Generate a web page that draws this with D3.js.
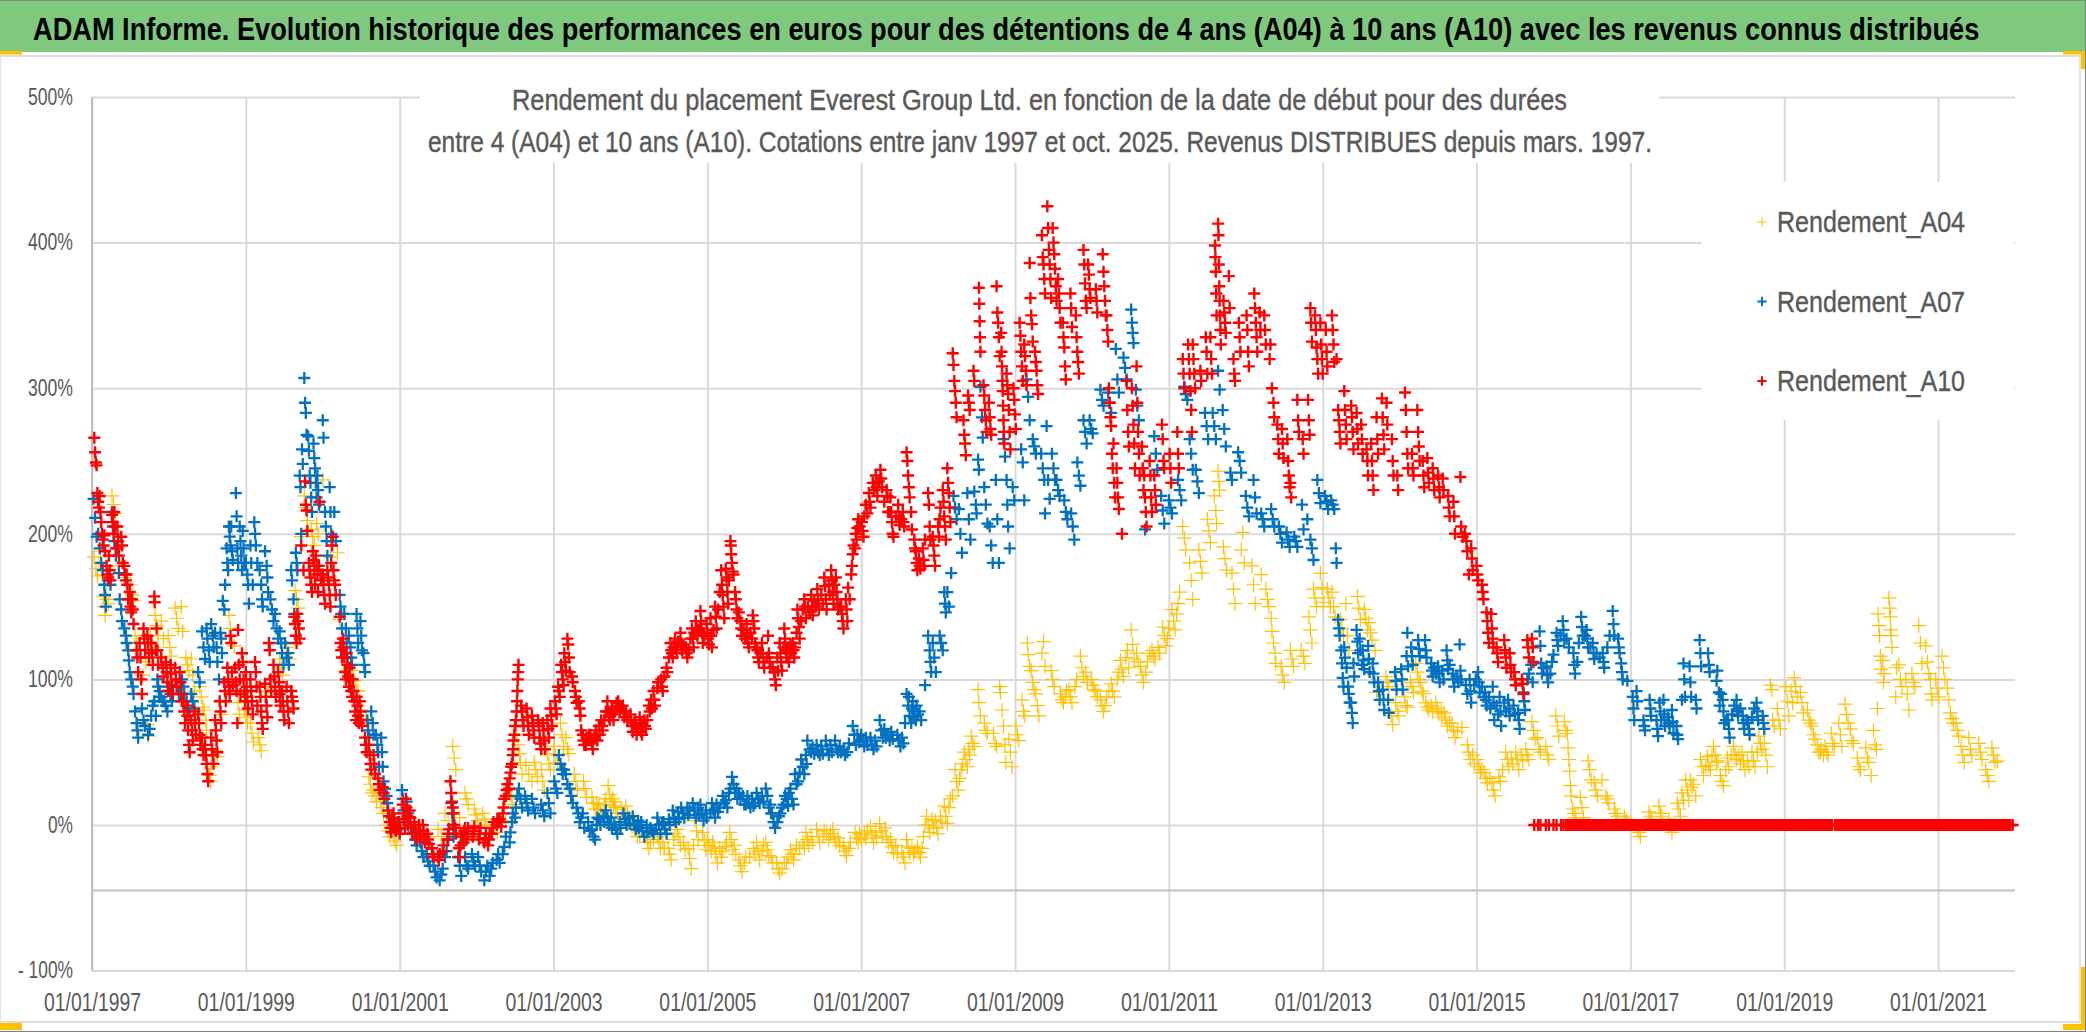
<!DOCTYPE html>
<html>
<head>
<meta charset="utf-8">
<title>ADAM Informe</title>
<script src="https://cdn.jsdelivr.net/npm/d3@7"></script>
<style>
body { margin: 0; background: #fff; }
text { font-family: "Liberation Sans", sans-serif; }
</style>
</head>
<body>
<div id="graph"></div>
<script>
const titre = "ADAM Informe. Evolution historique des performances en euros pour des détentions de 4 ans (A04) à 10 ans (A10) avec les revenus connus distribués";
const sousTitre1 = "Rendement du placement Everest Group Ltd. en fonction de la date de début pour des durées";
const sousTitre2 = "entre 4 (A04) et 10 ans (A10). Cotations entre janv 1997 et oct. 2025. Revenus DISTRIBUES depuis mars. 1997.";
const seriesNames = ["Rendement_A04", "Rendement_A07", "Rendement_A10"];
const xTickYears = [1997, 1999, 2001, 2003, 2005, 2007, 2009, 2011, 2013, 2015, 2017, 2019, 2021];
const yTicks = [-100, 0, 100, 200, 300, 400, 500];

// [annee decimale, rendement %]
const rendementA04 = [
[1997.03,184],[1997.05,176],[1997.07,171],[1997.09,180],[1997.11,188],[1997.13,172],[1997.15,157],[1997.16,150],[1997.17,144],[1997.19,155],[1997.21,152],[1997.26,226],[1997.28,220],[1997.3,214],[1997.33,190],[1997.35,178],[1997.42,170],[1997.5,165],[1997.52,158],[1997.54,154],[1997.56,130],[1997.58,125],[1997.66,103],[1997.7,112],[1997.72,69],[1997.73,61],[1997.76,130],[1997.79,122],[1997.82,144],[1997.84,137],[1997.86,130],[1997.9,140],[1997.93,128],[1997.99,130],[1998.01,122],[1998.03,116],[1998.08,149],[1998.1,142],[1998.12,135],[1998.16,150],[1998.18,133],[1998.22,115],[1998.24,110],[1998.26,106],[1998.29,114],[1998.31,103],[1998.33,92],[1998.4,95],[1998.42,88],[1998.44,81],[1998.46,79],[1998.48,72],[1998.49,65],[1998.53,34],[1998.54,30],[1998.55,40],[1998.61,51],[1998.63,47],[1998.68,76],[1998.78,144],[1998.8,135],[1998.85,123],[1998.9,84],[1998.92,76],[1998.98,79],[1999.0,74],[1999.02,70],[1999.06,70],[1999.08,63],[1999.1,57],[1999.16,60],[1999.18,55],[1999.2,51],[1999.29,92],[1999.37,95],[1999.44,114],[1999.46,108],[1999.48,103],[1999.53,122],[1999.55,118],[1999.57,114],[1999.64,161],[1999.66,155],[1999.68,149],[1999.72,198],[1999.76,226],[1999.78,218],[1999.8,209],[1999.85,203],[1999.87,198],[1999.89,192],[1999.92,207],[1999.94,200],[2000.0,237],[2000.1,184],[2000.19,187],[2000.22,141],[2000.3,106],[2000.4,106],[2000.42,99],[2000.44,92],[2000.46,92],[2000.48,85],[2000.5,79],[2000.56,73],[2000.6,33],[2000.62,28],[2000.64,22],[2000.66,24],[2000.68,20],[2000.7,16],[2000.75,16],[2000.77,12],[2000.79,8],[2000.83,0],[2000.85,-4],[2000.87,-8],[2000.92,-8],[2000.94,-11],[2000.96,-14],[2001.06,5],[2001.37,-8],[2001.5,-3],[2001.54,-8],[2001.59,8],[2001.63,3],[2001.69,54],[2001.71,46],[2001.73,38],[2001.78,5],[2001.85,22],[2001.87,18],[2001.89,14],[2001.97,11],[2001.99,7],[2002.01,3],[2002.08,8],[2002.1,4],[2002.12,0],[2002.23,0],[2002.27,-5],[2002.34,8],[2002.38,3],[2002.43,24],[2002.45,19],[2002.47,14],[2002.52,62],[2002.54,55],[2002.56,49],[2002.57,43],[2002.59,35],[2002.64,41],[2002.68,35],[2002.72,30],[2002.75,43],[2002.77,38],[2002.79,33],[2002.84,38],[2002.86,30],[2002.88,24],[2002.92,49],[2002.94,42],[2002.96,38],[2003.01,54],[2003.03,48],[2003.05,43],[2003.09,70],[2003.11,62],[2003.13,54],[2003.16,60],[2003.18,52],[2003.2,49],[2003.27,35],[2003.29,30],[2003.31,24],[2003.39,30],[2003.41,25],[2003.43,19],[2003.5,19],[2003.52,15],[2003.54,11],[2003.59,14],[2003.61,10],[2003.63,8],[2003.71,27],[2003.73,21],[2003.75,16],[2003.79,16],[2003.81,12],[2003.83,8],[2003.94,13],[2003.96,8],[2003.98,5],[2004.05,-3],[2004.09,-8],[2004.2,-8],[2004.22,-12],[2004.24,-16],[2004.35,-8],[2004.37,-12],[2004.39,-16],[2004.49,-16],[2004.51,-20],[2004.53,-24],[2004.61,-3],[2004.63,-8],[2004.65,-14],[2004.75,-16],[2004.77,-23],[2004.79,-30],[2004.84,3],[2004.86,-4],[2004.88,-10],
[2004.94,-5],[2004.96,-11],[2004.98,-17],[2005.09,-15],[2005.11,-20],[2005.13,-26],[2005.2,-18],[2005.25,-12],[2005.29,-5],[2005.31,-10],[2005.33,-17],[2005.41,-24],[2005.43,-28],[2005.45,-32],[2005.55,-22],[2005.64,-12],[2005.66,-18],[2005.68,-24],[2005.76,-12],[2005.78,-17],[2005.8,-21],[2005.9,-26],[2005.92,-30],[2005.94,-33],[2006.0,-26],[2006.08,-17],[2006.1,-20],[2006.12,-24],[2006.2,-16],[2006.28,-5],[2006.3,-10],[2006.32,-14],[2006.42,-3],[2006.44,-8],[2006.46,-12],[2006.55,-6],[2006.63,-3],[2006.65,-8],[2006.67,-12],[2006.77,-15],[2006.79,-18],[2006.81,-21],[2006.92,-5],[2006.94,-9],[2006.96,-12],[2007.04,-6],[2007.12,-1],[2007.14,-7],[2007.16,-12],[2007.24,1],[2007.26,-4],[2007.28,-8],[2007.38,-10],[2007.4,-15],[2007.42,-19],[2007.53,-19],[2007.55,-22],[2007.57,-26],[2007.59,-10],[2007.61,-15],[2007.63,-19],[2007.7,-18],[2007.73,-15],[2007.75,-19],[2007.77,-22],[2007.85,6],[2007.87,0],[2007.89,-5],[2007.96,3],[2007.98,-2],[2008.0,-6],[2008.08,13],[2008.1,6],[2008.12,1],[2008.19,20],[2008.22,38],[2008.24,30],[2008.26,24],[2008.34,50],[2008.36,45],[2008.38,40],[2008.43,61],[2008.45,56],[2008.47,54],[2008.52,93],[2008.53,84],[2008.55,75],[2008.6,70],[2008.62,65],[2008.64,63],[2008.72,63],[2008.74,56],[2008.76,54],[2008.8,95],[2008.81,91],[2008.83,79],[2008.85,68],[2008.87,55],[2008.88,43],[2008.92,59],[2008.94,50],[2008.96,40],[2009.01,68],[2009.03,62],[2009.05,58],[2009.09,86],[2009.11,78],[2009.13,75],[2009.16,125],[2009.17,117],[2009.19,109],[2009.21,106],[2009.23,98],[2009.25,93],[2009.27,90],[2009.29,82],[2009.31,75],[2009.35,118],[2009.37,126],[2009.39,109],[2009.47,106],[2009.49,100],[2009.51,95],[2009.59,90],[2009.61,86],[2009.63,84],[2009.7,93],[2009.72,88],[2009.74,84],[2009.85,116],[2009.87,108],[2009.89,102],[2009.99,100],[2010.01,96],[2010.03,93],[2010.11,86],[2010.13,82],[2010.15,78],[2010.25,97],[2010.27,92],[2010.29,88],[2010.37,113],[2010.39,107],[2010.41,102],[2010.51,134],[2010.53,124],[2010.55,114],[2010.63,109],[2010.65,103],[2010.67,98],[2010.78,120],[2010.8,116],[2010.82,114],[2010.92,136],[2010.94,130],[2010.96,123],[2011.04,148],[2011.06,140],[2011.08,134],[2011.18,205],[2011.2,197],[2011.22,189],[2011.27,180],[2011.29,168],[2011.31,155],[2011.39,189],[2011.41,181],[2011.43,173],[2011.5,210],[2011.52,202],[2011.54,194],[2011.59,226],[2011.61,216],[2011.62,207],[2011.64,243],[2011.65,236],[2011.66,230],[2011.71,191],[2011.73,183],[2011.75,175],[2011.82,173],[2011.84,162],[2011.86,152],[2011.94,189],[2011.96,201],[2011.98,180],[2012.08,178],[2012.1,165],[2012.12,152],[2012.2,172],[2012.26,162],[2012.28,155],[2012.3,150],[2012.33,142],[2012.34,133],[2012.36,125],[2012.38,118],[2012.39,111],[2012.46,109],[2012.48,103],[2012.5,98],[2012.58,120],[2012.6,114],[2012.62,109],[2012.72,120],[2012.75,116],[2012.77,111],[2012.82,143],[2012.84,134],[2012.86,125],[2012.88,162],[2012.9,156],[2012.92,150],[2012.97,173],[2012.99,163],[2013.01,153],[2013.06,162],[2013.08,156],[2013.1,150],[2013.12,160],[2013.14,150],[2013.16,143],[2013.23,141],[2013.25,135],[2013.27,130],[2013.3,152],[2013.32,130],[2013.34,120],[2013.45,157],[2013.47,149],[2013.49,141],[2013.54,148],[2013.56,142],[2013.58,134],[2013.6,139],[2013.62,132],[2013.64,127],[2013.68,120],[2013.7,91],[2013.82,102],[2013.84,98],[2013.86,95],[2013.89,75],[2013.91,69],[2013.95,84],[2013.97,78],[2013.99,75],[2014.06,88],[2014.08,82],[2014.1,81],[2014.14,98],[2014.16,95],[2014.18,91],[2014.21,111],[2014.23,105],[2014.25,100],[2014.27,98],[2014.29,92],[2014.31,90],[2014.34,84],[2014.36,81],[2014.38,79],[2014.47,84],[2014.49,80],[2014.51,77],[2014.58,77],[2014.6,72],[2014.62,68],[2014.68,70],[2014.7,65],[2014.72,60],[2014.81,67],[2014.88,55],[2014.9,50],[2014.92,45],[2015.01,45],[2015.03,40],[2015.05,36],[2015.1,36],[2015.12,32],[2015.14,29],[2015.2,29],[2015.22,24],[2015.24,20],[2015.29,33],[2015.31,30],[2015.38,50],[2015.4,45],[2015.42,40],[2015.51,50],[2015.53,45],[2015.55,38],[2015.64,52],[2015.66,48],[2015.68,45],[2015.72,71],[2015.74,65],[2015.76,59],[2015.79,60],[2015.81,52],[2015.83,50],[2015.9,54],[2015.92,48],[2015.94,45],[2016.03,75],[2016.05,68],[2016.07,61],[2016.14,71],[2016.16,65],[2016.18,63],[2016.19,53],[2016.2,45],[2016.21,37],[2016.22,27],[2016.23,20],[2016.25,11],[2016.27,8],[2016.29,5],[2016.35,19],[2016.37,12],[2016.39,5],[2016.45,44],[2016.47,38],[2016.49,31],[2016.53,29],[2016.55,24],[2016.57,20],[2016.63,31],[2016.68,20],[2016.7,18],[2016.72,15],[2016.79,11],[2016.81,8],[2016.83,6],[2016.92,6],[2016.94,4],[2016.96,2],[2017.09,-3],[2017.11,-5],[2017.13,-8],[2017.24,9],[2017.26,6],[2017.28,4],[2017.37,13],[2017.39,8],[2017.41,6],[2017.5,4],[2017.52,0],[2017.54,-5],[2017.61,15],[2017.63,11],[2017.65,6],[2017.67,22],[2017.69,17],[2017.72,31],[2017.74,24],[2017.76,17],[2017.78,31],[2017.8,26],[2017.82,28],[2017.85,20],[2017.91,45],[2017.93,40],[2017.95,34],[2018.0,47],[2018.02,41],[2018.04,38],[2018.08,54],[2018.1,48],[2018.12,43],[2018.17,34],[2018.19,30],[2018.21,27],[2018.26,46],[2018.28,40],[2018.34,54],[2018.36,48],[2018.38,45],[2018.45,50],[2018.47,44],[2018.49,38],[2018.58,50],[2018.6,44],[2018.62,40],[2018.67,61],[2018.69,56],[2018.71,52],[2018.74,56],[2018.76,48],[2018.78,40],[2018.82,96],[2018.84,93],[2018.85,72],[2018.87,68],[2018.91,80],[2018.93,72],[2018.95,66],[2019.02,95],[2019.04,85],[2019.06,75],[2019.13,101],[2019.15,95],[2019.17,88],[2019.21,91],[2019.23,84],[2019.25,77],[2019.3,79],[2019.32,72],[2019.34,70],[2019.36,68],[2019.38,62],[2019.4,59],[2019.43,55],[2019.45,50],[2019.47,50],[2019.53,54],[2019.55,50],[2019.57,48],[2019.61,63],[2019.63,56],[2019.65,54],[2019.71,70],[2019.73,62],[2019.75,54],[2019.79,83],[2019.81,76],[2019.83,70],[2019.86,66],[2019.88,58],[2019.9,56],[2019.95,46],[2019.97,40],[2019.99,38],[2020.06,53],[2020.08,46],[2020.1,43],[2020.13,34],[2020.16,65],[2020.18,55],[2020.2,52],[2020.21,80],[2020.22,145],[2020.23,137],[2020.24,130],[2020.25,116],[2020.26,107],[2020.28,113],[2020.29,98],[2020.3,104],[2020.36,156],[2020.37,149],[2020.38,143],[2020.385,134],[2020.39,130],[2020.4,122],[2020.45,88],[2020.46,108],[2020.49,110],[2020.51,100],[2020.53,95],[2020.58,100],[2020.6,90],[2020.62,79],[2020.66,104],[2020.68,98],[2020.7,95],[2020.75,137],[2020.77,125],[2020.79,111],[2020.84,123],[2020.86,112],[2020.88,104],[2020.9,100],[2020.91,90],[2020.92,86],[2020.97,100],[2020.99,94],[2021.01,88],[2021.05,116],[2021.07,108],[2021.09,100],[2021.12,94],[2021.14,86],[2021.16,77],[2021.18,73],[2021.2,70],[2021.23,70],[2021.25,65],[2021.27,61],[2021.3,54],[2021.32,48],[2021.34,43],[2021.4,60],[2021.42,52],[2021.44,48],[2021.53,56],[2021.55,50],[2021.57,45],[2021.62,38],[2021.64,34],[2021.66,30],[2021.7,53],[2021.72,48],[2021.74,43],[2021.77,44],
[2003.56,15],[2003.57,11],[2003.66,14],[2003.68,18],[2003.77,18],[2003.78,13],[2003.88,11],[2003.89,6],[2004.0,4],[2004.02,-1],[2004.12,-8],[2004.14,-4],[2004.26,-12],[2004.3,-10],[2004.42,-12],[2004.44,-16],[2004.56,-10],[2004.58,-6],[2004.69,-12],[2004.71,-17],[2004.82,-14],[2005.0,-10],[2005.02,-14],[2005.05,-18],[2005.07,-12],[2005.16,-16],[2005.18,-22],[2005.23,-15],[2005.35,-14],[2005.37,-20],[2005.48,-26],[2005.5,-22],[2005.6,-16],[2005.62,-20],[2005.71,-18],[2005.73,-14],[2005.83,-22],[2005.85,-26],[2005.97,-30],[2006.03,-26],[2006.05,-22],[2006.14,-20],[2006.16,-14],[2006.24,-12],[2006.26,-16],[2006.35,-8],[2006.37,-12],[2006.5,-8],[2006.52,-4],[2006.58,-10],[2006.6,-6],[2006.7,-9],[2006.72,-14],[2006.84,-16],[2006.86,-12],[2006.98,-6],[2007.0,-10],[2007.06,-9],[2007.08,-4],[2007.18,-5],[2007.2,-9],[2007.31,-2],[2007.33,-8],[2007.35,-12],[2007.45,-14],[2007.47,-20],[2007.66,-16],[2007.68,-20],[2007.79,-16],[2007.81,-8],[2007.83,0],[2007.92,4],[2007.94,-2],[2008.03,6],[2008.05,2],[2008.14,12],[2008.16,18],[2008.28,32],[2008.3,38],[2008.32,42],[2008.4,52],[2008.41,48],[2009.65,88],[2009.67,92],[2009.78,95],[2009.8,100],[2009.92,105],[2009.94,98],[2010.05,92],[2010.07,88],[2010.17,82],[2010.19,88],[2010.22,92],[2010.33,100],[2010.35,105],[2010.44,115],[2010.46,120],[2010.48,108],[2010.58,118],[2010.6,112],[2010.7,105],[2010.72,112],[2010.75,118],[2010.86,122],[2010.88,118],[2010.98,128],[2011.0,135],[2011.1,145],[2011.12,152],[2011.14,160],[2014.41,82],[2014.43,78],[2014.54,78],[2014.55,74],[2014.65,70],[2014.75,64],[2014.95,48],[2014.97,42],[2015.07,38],[2015.17,32],[2015.34,38],[2015.45,46],[2015.47,42],[2015.58,48],[2015.6,44],[2017.98,40],[2018.06,48],[2018.14,44],[2018.24,38],[2018.31,48],[2018.41,48],[2018.43,42],[2018.52,44],[2018.54,40],[2018.65,50],[2019.09,92],[2019.11,84],[2019.48,52],[2019.51,48]
];

const rendementA07 = [
[1997.02,224],[1997.04,211],[1997.06,198],[1997.08,200],[1997.1,190],[1997.12,180],[1997.14,175],[1997.16,165],[1997.17,158],[1997.18,150],[1997.21,168],[1997.24,165],[1997.26,215],[1997.27,205],[1997.29,195],[1997.31,185],[1997.33,190],[1997.35,173],[1997.36,155],[1997.38,148],[1997.39,140],[1997.42,135],[1997.44,130],[1997.45,125],[1997.47,120],[1997.48,113],[1997.49,105],[1997.51,100],[1997.53,95],[1997.54,90],[1997.56,78],[1997.58,70],[1997.59,65],[1997.6,60],[1997.65,80],[1997.67,72],[1997.69,68],[1997.73,62],[1997.75,66],[1997.77,75],[1997.79,82],[1997.81,85],[1997.83,75],[1997.85,100],[1997.86,95],[1997.87,88],[1997.88,92],[1997.9,88],[1997.92,85],[1997.94,85],[1997.96,82],[1997.98,78],[1998.0,95],[1998.02,90],[1998.04,85],[1998.09,100],[1998.11,95],[1998.13,90],[1998.17,100],[1998.19,95],[1998.2,90],[1998.23,85],[1998.25,80],[1998.27,75],[1998.29,90],[1998.31,85],[1998.33,80],[1998.38,105],[1998.4,98],[1998.43,133],[1998.45,122],[1998.47,114],[1998.49,135],[1998.5,128],[1998.52,120],[1998.53,112],[1998.55,138],[1998.57,130],[1998.58,122],[1998.6,132],[1998.62,122],[1998.63,112],[1998.65,100],[1998.67,132],[1998.68,128],[1998.69,118],[1998.7,154],[1998.72,148],[1998.73,165],[1998.75,190],[1998.76,180],[1998.77,175],[1998.78,205],[1998.79,198],[1998.8,192],[1998.81,205],[1998.82,188],[1998.83,182],[1998.87,228],[1998.88,212],[1998.89,190],[1998.9,180],[1998.92,205],[1998.93,195],[1998.94,185],[1998.95,175],[1998.96,202],[1998.97,190],[1998.98,180],[1999.0,180],[1999.02,172],[1999.03,165],[1999.04,152],[1999.06,192],[1999.07,180],[1999.09,165],[1999.11,208],[1999.12,200],[1999.13,192],[1999.15,180],[1999.18,175],[1999.2,165],[1999.21,155],[1999.22,150],[1999.25,188],[1999.27,178],[1999.28,170],[1999.29,160],[1999.32,155],[1999.34,148],[1999.36,140],[1999.38,145],[1999.4,135],[1999.42,128],[1999.44,133],[1999.46,125],[1999.47,118],[1999.49,110],[1999.51,125],[1999.53,115],[1999.55,118],[1999.56,110],[1999.59,175],[1999.6,168],[1999.62,155],[1999.63,145],[1999.65,187],[1999.66,180],[1999.67,175],[1999.7,240],[1999.71,232],[1999.72,200],[1999.73,258],[1999.74,248],[1999.76,307],[1999.77,290],[1999.78,283],[1999.79,268],[1999.81,267],[1999.82,257],[1999.83,240],[1999.84,235],[1999.85,225],[1999.86,215],[1999.88,262],[1999.89,252],[1999.9,245],[1999.91,235],[1999.92,225],[1999.93,240],[1999.94,230],[1999.95,220],[2000.0,278],[2000.01,266],[2000.03,215],[2000.04,205],[2000.05,195],[2000.06,185],[2000.09,232],[2000.1,215],[2000.11,200],[2000.12,195],[2000.15,215],[2000.17,195],[2000.22,158],[2000.23,150],[2000.24,145],[2000.25,135],[2000.28,145],[2000.3,135],[2000.31,125],[2000.32,115],[2000.34,130],[2000.36,122],[2000.37,115],[2000.38,110],[2000.44,145],[2000.45,135],[2000.46,125],[2000.49,140],[2000.5,130],[2000.51,120],[2000.53,118],[2000.54,110],[2000.55,105],[2000.58,72],[2000.59,65],[2000.6,60],[2000.63,78],[2000.65,70],[2000.66,62],[2000.69,62],[2000.71,55],[2000.72,50],[2000.73,40],[2000.76,60],[2000.77,50],[2000.78,40],[2000.79,30],[2000.81,25],[2000.83,20],[2000.84,15],[2000.9,5],[2000.92,0],[2000.94,-3],[2000.99,2],[2001.01,-3],[2001.03,24],[2001.04,18],[2001.05,10],[2001.09,16],[2001.11,8],[2001.13,2],[2001.18,-5],[2001.2,-10],[2001.22,-14],[2001.27,-12],[2001.29,-18],[2001.31,-22],[2001.35,-20],[2001.37,-25],[2001.39,-28],[2001.44,-28],[2001.46,-32],[2001.48,-36],[2001.52,-38],[2001.54,-34],[2001.56,-30],[2001.59,-22],[2001.61,-18],[2001.63,-10],[2001.67,15],[2001.68,8],[2001.69,0],[2001.7,-8],[2001.76,-22],[2001.78,-28],[2001.8,-35],[2001.85,-22],[2001.87,-28],[2001.89,-30],[2001.94,-20],[2001.96,-25],[2001.98,-28],[2002.02,-22],[2002.04,-28],[2002.06,-32],[2002.1,-38],[2002.12,-32],[2002.14,-28],[2002.17,-35],[2002.19,-30],[2002.21,-26],[2002.26,-24],[2002.28,-20],[2002.3,-26],[2002.34,-20],[2002.36,-15],[2002.38,-8],[2002.43,-12],[2002.44,-5],[2002.46,2],[2002.47,8],[2002.5,5],[2002.51,12],[2002.53,20],[2002.55,25],[2002.57,18],[2002.59,12],[2002.63,20],[2002.65,15],[2002.67,10],[2002.72,18],[2002.74,12],[2002.76,8],[2002.84,14],[2002.86,10],[2002.88,6],[2002.92,22],[2002.94,15],[2002.96,8],[2003.01,30],[2003.03,25],[2003.05,22],[2003.07,48],[2003.09,42],[2003.11,38],[2003.12,35],[2003.14,38],[2003.16,35],[2003.18,28],[2003.21,25],[2003.23,20],[2003.25,15],[2003.3,12],[2003.32,8],[2003.34,2],[2003.36,5],[2003.38,8],[2003.4,-2],[2003.5,-3],[2003.52,-8],[2003.54,-10],[2003.59,4],[2003.61,0],[2003.68,10],[2003.7,5],[2003.72,0],[2003.79,0],[2003.81,-3],[2003.83,-6],[2003.91,8],[2003.93,4],[2003.95,0],[2004.03,6],[2004.05,0],[2004.07,-3],[2004.14,2],[2004.16,-4],[2004.18,-8],[2004.26,-2],[2004.28,-4],[2004.3,-6],[2004.35,5],[2004.37,0],[2004.39,-6],[2004.43,2],[2004.45,-3],[2004.47,-6],[2004.55,10],[2004.57,5],[2004.59,2],[2004.66,12],[2004.68,8],[2004.7,5],[2004.81,15],[2004.83,10],[2004.85,5],[2004.91,14],[2004.93,8],[2004.95,3],[2005.04,8],[2005.06,15],[2005.08,10],[2005.1,5],[2005.16,12],[2005.2,20],[2005.22,15],[2005.28,22],[2005.32,33],[2005.34,28],[2005.36,22],[2005.41,22],[2005.43,18],[2005.5,14],[2005.52,20],[2005.54,15],[2005.56,12],[2005.62,15],[2005.64,22],[2005.66,18],[2005.68,15],[2005.76,25],[2005.78,20],[2005.8,12],[2005.84,8],[2005.86,2],[2005.88,-2],[2005.91,2],[2005.93,6],[2005.99,14],[2006.01,20],[2006.08,25],[2006.1,18],[2006.12,14],[2006.14,35],[2006.16,28],[2006.22,45],[2006.24,40],[2006.26,35],[2006.3,58],[2006.33,52],[2006.35,50],[2006.42,55],[2006.44,50],[2006.46,48],[2006.54,58],[2006.56,52],[2006.58,48],[2006.66,58],[2006.68,52],[2006.7,50],[2006.77,52],[2006.79,48],[2006.89,68],[2006.91,62],[2006.93,55],[2007.0,62],[2007.02,58],[2007.04,54],[2007.12,60],[2007.14,55],[2007.16,52],[2007.24,72],[2007.26,65],[2007.28,60],[2007.35,62],[2007.37,58],[2007.47,62],[2007.49,58],[2007.51,54],[2007.59,90],[2007.61,82],[2007.63,75],[2007.65,70],[2007.67,85],[2007.69,78],[2007.71,72],[2007.76,78],[2007.78,72],[2007.83,96],[2007.87,130],[2007.89,120],[2007.9,112],[2007.91,105],[2007.93,125],[2007.95,115],[2007.97,105],[2008.02,130],[2008.04,125],[2008.06,120],[2008.08,160],[2008.09,152],[2008.1,146],[2008.12,160],[2008.14,150],[2008.17,173],[2008.2,226],[2008.22,218],[2008.24,210],[2008.27,217],[2008.29,200],[2008.31,187],[2008.38,228],[2008.4,210],[2008.42,196],[2008.47,229],[2008.49,220],[2008.5,214],[2008.52,251],[2008.53,244],[2008.55,301],[2008.57,280],[2008.58,266],[2008.6,232],[2008.62,220],[2008.64,207],[2008.67,205],[2008.69,192],[2008.71,180],[2008.75,237],[2008.77,210],[2008.79,180],[2008.85,265],[2008.87,253],[2008.89,237],[2008.9,220],[2008.91,205],[2008.93,190],[2008.97,232],[2008.99,223],[2009.08,258],[2009.1,249],[2009.12,223],[2009.15,306],[2009.17,294],[2009.19,278],[2009.23,265],[2009.25,260],[2009.27,255],[2009.34,255],[2009.36,245],[2009.38,237],[2009.39,214],[2009.41,274],[2009.43,237],[2009.45,224],[2009.48,255],[2009.5,245],[2009.52,237],[2009.54,237],[2009.56,230],[2009.58,226],[2009.64,223],[2009.66,215],[2009.68,210],[2009.73,214],[2009.75,205],[2009.77,196],[2009.81,249],[2009.83,240],[2009.85,233],[2009.89,278],[2009.91,270],[2009.93,262],[2009.97,278],[2009.99,272],[2010.01,269],[2010.11,299],[2010.13,292],[2010.15,288],[2010.21,297],[2010.23,290],[2010.25,283],[2010.31,327],[2010.33,306],[2010.35,297],[2010.41,321],[2010.43,314],[2010.45,306],[2010.51,354],[2010.52,345],[2010.53,338],[2010.54,331],[2010.57,299],[2010.59,288],[2010.61,278],[2010.69,203],[2010.81,267],[2010.83,255],[2010.85,244],[2010.9,226],[2010.92,216],[2010.94,207],[2011.0,223],[2011.02,218],[2011.04,214],[2011.12,237],[2011.14,230],[2011.16,223],[2011.2,301],[2011.22,296],[2011.24,292],[2011.27,265],[2011.29,255],[2011.31,244],[2011.35,244],[2011.37,236],[2011.39,228],[2011.47,283],[2011.49,274],[2011.51,265],[2011.57,283],[2011.59,274],[2011.61,265],[2011.64,312],[2011.66,299],[2011.7,285],[2011.72,272],[2011.74,260],[2011.8,242],[2011.82,237],[2011.9,256],[2011.92,250],[2011.94,242],[2012.0,226],[2012.02,218],[2012.04,212],[2012.1,237],[2012.12,225],[2012.14,214],[2012.2,214],[2012.22,210],[2012.24,205],[2012.33,217],[2012.35,210],[2012.37,205],[2012.43,205],[2012.45,200],[2012.47,194],[2012.53,201],[2012.55,196],[2012.57,191],[2012.63,198],[2012.65,195],[2012.67,191],[2012.73,220],[2012.75,203],[2012.8,210],[2012.84,196],[2012.86,190],[2012.88,182],[2012.93,237],[2012.95,228],[2012.97,221],[2013.03,226],[2013.05,222],[2013.07,217],[2013.11,223],[2013.13,220],[2013.15,217],[2013.17,190],[2013.18,180],
[2013.2,141],[2013.21,135],[2013.22,130],[2013.24,120],[2013.25,111],[2013.26,101],[2013.27,95],[2013.28,122],[2013.29,115],[2013.31,108],[2013.33,95],[2013.34,90],[2013.35,84],[2013.37,84],[2013.38,77],[2013.39,70],[2013.4,111],[2013.41,102],[2013.44,134],[2013.45,126],[2013.46,118],[2013.48,128],[2013.49,120],[2013.51,110],[2013.52,120],[2013.53,113],[2013.54,107],[2013.59,123],[2013.6,114],[2013.61,105],[2013.65,111],[2013.66,104],[2013.67,98],[2013.72,98],[2013.73,92],[2013.74,86],[2013.78,93],[2013.79,86],[2013.8,79],[2013.85,86],[2013.86,77],[2013.94,105],[2013.95,99],[2013.96,93],[2014.02,107],[2014.03,100],[2014.04,93],[2014.09,116],[2014.1,132],[2014.11,109],[2014.15,122],[2014.16,116],[2014.17,110],[2014.24,127],[2014.25,121],[2014.26,116],[2014.33,127],[2014.34,120],[2014.35,115],[2014.41,111],[2014.42,106],[2014.43,102],[2014.5,109],[2014.51,104],[2014.52,98],[2014.61,120],[2014.62,113],[2014.63,107],[2014.69,104],[2014.7,100],[2014.71,95],[2014.78,124],[2014.79,106],[2014.8,100],[2014.91,100],[2014.92,92],[2014.93,84],[2015.02,105],[2015.03,98],[2015.04,91],[2015.11,91],[2015.12,86],[2015.13,82],[2015.21,95],[2015.22,84],[2015.23,72],[2015.3,88],[2015.31,78],[2015.32,68],[2015.41,86],[2015.42,80],[2015.43,75],[2015.54,77],[2015.55,72],[2015.56,66],[2015.61,91],[2015.62,85],[2015.63,79],[2015.71,110],[2015.73,98],[2015.82,133],[2015.83,123],[2015.84,111],[2015.85,104],[2015.91,109],[2015.92,103],[2015.93,98],[2016.04,132],[2016.05,127],[2016.06,123],[2016.0,117],[2016.12,140],[2016.13,134],[2016.14,127],[2016.26,118],[2016.27,110],[2016.28,104],[2016.36,143],[2016.37,136],[2016.38,130],[2016.43,134],[2016.44,128],[2016.45,122],[2016.51,125],[2016.52,118],[2016.53,114],[2016.64,118],[2016.65,112],[2016.66,108],[2016.77,147],[2016.78,138],[2016.79,130],[2016.84,128],[2016.85,122],[2016.86,118],[2016.88,111],[2016.89,105],[2016.9,100],[2016.96,99],
[2017.03,88],[2017.04,80],[2017.05,72],[2017.08,92],[2017.09,85],[2017.17,72],[2017.18,68],[2017.19,65],[2017.25,86],[2017.26,80],[2017.27,75],[2017.34,72],[2017.35,66],[2017.36,61],[2017.38,84],[2017.39,78],[2017.4,72],[2017.43,86],[2017.44,76],[2017.45,68],[2017.49,74],[2017.5,70],[2017.51,68],[2017.54,79],[2017.55,71],[2017.56,63],[2017.6,68],[2017.61,62],[2017.62,59],[2017.67,86],[2017.69,111],[2017.7,100],[2017.71,88],[2017.77,109],[2017.78,98],[2017.79,88],[2017.85,86],[2017.86,80],[2017.9,127],[2017.91,118],[2017.92,109],[2018.01,118],[2018.02,110],[2018.03,105],[2018.12,99],[2018.13,106],[2018.15,91],[2018.16,82],[2018.2,86],[2018.21,78],[2018.22,70],[2018.27,72],[2018.28,66],[2018.29,60],[2018.38,86],[2018.39,78],[2018.4,75],[2018.46,75],[2018.47,70],[2018.48,66],[2018.53,70],[2018.54,66],[2018.55,62],[2018.64,84],[2018.65,78],[2018.66,72],[2018.72,75],[2018.73,70],[2018.74,66],
[2003.45,2],[2003.47,-4],[2003.56,0],[2003.57,5],[2003.65,6],[2003.66,2],[2003.75,5],[2003.76,-2],[2003.86,2],[2003.87,-2],[2003.98,5],[2003.99,1],[2004.1,3],[2004.11,-2],[2004.21,0],[2004.22,-5],[2004.33,-3],[2004.41,1],[2004.5,4],[2004.51,0],[2004.62,9],[2004.63,4],[2004.74,12],[2004.75,7],[2004.77,10],[2004.88,12],[2004.89,7],[2004.98,10],[2004.99,5],[2005.12,14],[2005.14,9],[2005.24,17],[2005.26,12],[2005.3,25],[2005.38,25],[2005.39,18],[2005.46,20],[2005.48,14],[2005.58,18],[2005.6,13],[2005.71,20],[2005.73,16],[2005.82,14],[2005.83,8],[2005.95,8],[2005.97,12],[2006.03,18],[2006.05,13],[2006.06,22],[2006.18,30],[2006.2,36],[2006.28,48],[2006.29,42],[2006.37,53],[2006.39,49],[2006.48,54],[2006.5,49],[2006.6,55],[2006.62,50],[2006.72,54],[2006.74,50],[2006.82,50],[2006.84,56],[2006.95,62],[2006.97,57],[2007.06,60],[2007.08,55],[2007.18,58],[2007.2,54],[2007.3,66],[2007.32,60],[2007.39,64],[2007.41,59],[2007.53,60],[2007.55,56],[2007.57,70],[2007.62,88],[2007.66,80],[2007.68,74],[2007.72,82],[2007.74,76],[2014.45,108],[2014.47,104],[2014.55,106],[2014.57,100],[2014.65,110],[2014.74,102],[2014.76,98],[2014.86,96],[2014.88,90],[2014.97,96],[2014.99,100],[2015.07,95],[2015.09,88],[2015.16,88],[2015.18,80],[2015.26,82],[2015.28,76],[2015.36,84],[2015.38,78],[2015.48,82],[2015.5,76],[2015.66,100],[2015.68,104],[2015.87,108],[2015.96,104],[2015.98,112],[2016.09,130],[2016.17,128],[2016.2,122],[2016.31,112],[2016.33,125],[2016.41,130],[2016.48,122],[2016.56,118],[2016.6,115],[2016.7,122],[2016.73,130],[2018.18,90],[2018.24,72],[2018.32,76],[2018.35,82],[2018.43,80],[2018.51,72],[2018.58,74],[2018.61,80]
];

const rendementA10 = [
[1997.03,266],[1997.04,256],[1997.05,249],[1997.06,247],[1997.07,228],[1997.08,222],[1997.09,218],[1997.1,226],[1997.11,215],[1997.12,208],[1997.13,200],[1997.14,196],[1997.15,192],[1997.16,199],[1997.17,188],[1997.19,178],[1997.2,172],[1997.21,170],[1997.22,185],[1997.23,175],[1997.24,168],[1997.26,213],[1997.27,208],[1997.28,200],[1997.29,215],[1997.3,205],[1997.31,190],[1997.33,205],[1997.34,195],[1997.35,185],[1997.38,198],[1997.39,192],[1997.4,180],[1997.42,178],[1997.43,172],[1997.44,168],[1997.45,172],[1997.46,165],[1997.47,155],[1997.49,160],[1997.5,150],[1997.51,146],[1997.52,155],[1997.53,148],[1997.54,138],[1997.58,120],[1997.59,115],[1997.6,105],[1997.62,125],[1997.63,115],[1997.64,100],[1997.65,90],[1997.67,135],[1997.68,128],[1997.69,120],[1997.72,130],[1997.73,125],[1997.74,115],[1997.77,125],[1997.78,118],[1997.79,110],[1997.81,157],[1997.815,153],[1997.83,120],[1997.84,135],[1997.85,120],[1997.86,110],[1997.9,115],[1997.92,108],[1997.93,102],[1997.96,112],[1997.97,105],[1997.98,98],[1997.99,92],[1998.02,110],[1998.03,104],[1998.04,96],[1998.05,90],[1998.08,108],[1998.09,100],[1998.1,95],[1998.14,105],[1998.15,98],[1998.16,90],[1998.17,85],[1998.19,85],[1998.2,78],[1998.21,70],[1998.23,82],[1998.24,75],[1998.25,65],[1998.26,55],[1998.27,50],[1998.29,72],[1998.3,65],[1998.31,58],[1998.33,78],[1998.34,70],[1998.35,62],[1998.38,76],[1998.39,70],[1998.4,62],[1998.41,55],[1998.43,60],[1998.44,52],[1998.45,48],[1998.47,55],[1998.48,48],[1998.49,42],[1998.5,35],[1998.51,30],[1998.55,60],[1998.56,52],[1998.57,48],[1998.58,42],[1998.6,72],[1998.61,65],[1998.62,58],[1998.63,50],[1998.66,85],[1998.67,78],[1998.68,70],[1998.72,98],[1998.73,92],[1998.74,85],[1998.76,108],[1998.77,100],[1998.78,95],[1998.79,90],[1998.8,130],[1998.81,125],[1998.82,105],[1998.83,96],[1998.86,108],[1998.87,98],[1998.88,92],[1998.89,70],[1998.9,134],[1998.91,110],[1998.92,100],[1998.93,90],[1998.95,118],[1998.96,112],[1998.97,100],[1998.98,92],[1998.99,85],[1999.0,105],[1999.01,95],[1999.02,88],[1999.03,80],[1999.06,100],[1999.07,92],[1999.08,85],[1999.09,76],[1999.12,112],[1999.13,105],[1999.14,95],[1999.15,82],[1999.18,95],[1999.19,88],[1999.2,78],[1999.21,70],[1999.22,66],[1999.25,97],[1999.26,88],[1999.27,82],[1999.28,74],[1999.3,125],[1999.31,120],[1999.32,100],[1999.33,92],[1999.36,110],[1999.37,102],[1999.38,95],[1999.39,88],[1999.42,105],[1999.43,98],[1999.44,90],[1999.45,82],[1999.47,92],[1999.48,85],[1999.49,78],[1999.5,72],[1999.53,95],[1999.54,85],[1999.55,78],[1999.56,70],[1999.59,92],[1999.6,88],[1999.61,85],[1999.62,80],[1999.63,143],[1999.64,138],[1999.65,130],[1999.66,125],[1999.67,145],[1999.68,140],[1999.69,135],[1999.7,128],[1999.72,192],[1999.75,175],[1999.77,236],[1999.78,220],[1999.79,216],[1999.8,202],[1999.82,180],[1999.83,175],[1999.84,170],[1999.85,165],[1999.86,160],[1999.87,188],[1999.88,182],[1999.89,175],[1999.9,165],[1999.91,185],[1999.92,178],[1999.93,172],[1999.94,160],[1999.95,178],[1999.96,222],[1999.97,172],[1999.98,168],[2000.0,172],[2000.01,165],[2000.02,158],[2000.03,152],[2000.06,175],[2000.07,170],[2000.08,165],[2000.09,158],[2000.1,150],[2000.11,180],[2000.12,192],[2000.13,198],[2000.14,175],[2000.15,168],[2000.16,165],[2000.17,158],[2000.22,143],[2000.23,125],[2000.24,120],[2000.25,115],[2000.26,128],[2000.27,122],[2000.28,115],[2000.29,105],[2000.3,100],[2000.31,118],[2000.32,110],[2000.33,102],[2000.34,95],[2000.35,108],[2000.36,100],[2000.37,92],[2000.38,88],[2000.39,100],[2000.4,92],[2000.41,85],[2000.42,78],[2000.43,72],[2000.44,88],[2000.45,82],[2000.46,75],[2000.47,70],[2000.48,85],[2000.49,78],[2000.5,72],[2000.51,68],[2000.55,60],[2000.56,55],[2000.57,50],[2000.6,55],[2000.61,48],[2000.62,42],[2000.63,38],[2000.66,48],[2000.67,42],[2000.68,35],[2000.72,32],[2000.73,28],[2000.74,24],[2000.78,26],[2000.79,22],[2000.8,18],[2000.85,10],[2000.86,6],[2000.87,2],[2000.88,-2],[2000.89,-5],[2000.92,8],[2000.93,4],[2000.94,0],[2000.95,-4],[2000.98,2],[2000.99,-2],[2001.0,-6],[2001.04,14],[2001.05,8],[2001.06,4],[2001.07,-2],[2001.08,18],[2001.09,12],[2001.1,6],[2001.11,0],[2001.13,10],[2001.14,5],[2001.15,-2],[2001.16,-6],[2001.19,2],[2001.2,-2],[2001.21,-6],[2001.22,-10],[2001.25,0],[2001.26,-4],[2001.27,-8],[2001.3,0],[2001.31,-4],[2001.32,-8],[2001.33,-12],[2001.36,-6],[2001.37,-10],[2001.38,-13],[2001.42,-16],[2001.43,-20],[2001.44,-22],[2001.5,-22],[2001.51,-24],[2001.52,-20],[2001.56,-18],[2001.57,-14],[2001.62,-10],[2001.63,-6],[2001.64,-3],[2001.66,30],[2001.67,22],[2001.68,16],[2001.69,12],[2001.7,8],[2001.71,0],[2001.72,-2],[2001.73,-6],[2001.77,-16],[2001.78,-22],[2001.79,-14],[2001.8,-6],[2001.82,-8],[2001.83,-12],[2001.84,-4],[2001.85,-2],[2001.87,-10],[2001.88,-6],[2001.89,-2],[2001.95,-8],[2001.96,-4],[2001.97,-1],[2002.03,-10],[2002.04,-6],[2002.05,-2],[2002.1,-12],[2002.11,-9],[2002.12,-6],[2002.15,-14],[2002.16,-10],[2002.17,-6],[2002.2,-6],[2002.21,-2],[2002.22,2],[2002.26,0],[2002.27,4],[2002.28,3],[2002.3,4],[2002.31,2],[2002.32,-1],[2002.34,8],[2002.35,12],[2002.36,18],[2002.38,20],[2002.39,24],[2002.4,28],[2002.42,25],[2002.43,32],[2002.44,36],[2002.45,40],[2002.46,42],[2002.47,48],[2002.475,52],[2002.48,58],[2002.49,62],[2002.5,68],[2002.51,72],[2002.52,78],[2002.525,85],[2002.53,92],[2002.535,100],[2002.54,105],[2002.545,110],[2002.58,82],[2002.59,78],[2002.6,72],[2002.61,68],[2002.65,80],[2002.66,74],[2002.67,68],[2002.68,62],[2002.72,75],[2002.73,70],[2002.74,65],[2002.75,60],[2002.8,72],[2002.81,68],[2002.82,60],[2002.83,56],[2002.84,52],[2002.86,70],[2002.87,65],[2002.88,58],[2002.89,52],[2002.92,72],[2002.93,66],[2002.94,60],[2002.96,80],[2002.97,75],[2002.98,68],[2003.02,85],[2003.03,80],[2003.04,76],[2003.06,95],[2003.07,92],[2003.08,88],[2003.1,110],[2003.11,105],[2003.12,100],[2003.13,96],[2003.14,118],[2003.15,112],[2003.16,106],[2003.18,128],[2003.19,124],[2003.2,115],[2003.21,105],[2003.24,102],[2003.25,98],[2003.28,92],[2003.29,88],[2003.3,84],[2003.33,85],[2003.34,80],[2003.35,75],[2003.36,65],[2003.38,62],[2003.39,58],[2003.4,55],[2003.42,55],[2003.43,60],[2003.48,62],[2003.49,58],[2003.5,56],[2003.51,52],[2003.55,65],[2003.56,62],[2003.57,58],[2003.62,72],[2003.63,68],[2003.64,65],[2003.7,85],[2003.71,78],[2003.72,74],[2003.73,72],[2003.76,80],[2003.77,76],[2003.78,72],[2003.84,85],[2003.85,82],[2003.86,78],[2003.9,82],[2003.91,78],[2003.92,74],[2004.0,76],[2004.01,72],[2004.02,68],[2004.03,64],[2004.06,72],[2004.07,68],[2004.08,62],[2004.12,74],[2004.13,70],[2004.14,64],[2004.15,62],[2004.18,72],[2004.19,68],[2004.2,66],[2004.24,82],[2004.25,78],[2004.3,92],[2004.31,86],[2004.32,82],[2004.4,100],[2004.41,95],[2004.42,92],[2004.47,108],[2004.48,105],[2004.52,125],[2004.53,120],[2004.54,118],[2004.55,115],[2004.58,128],[2004.59,122],[2004.6,118],[2004.65,132],[2004.66,125],[2004.67,120],[2004.72,122],[2004.73,118],[2004.74,115],[2004.8,135],[2004.81,128],[2004.82,122],[2004.85,140],[2004.86,135],[2004.87,130],[2004.9,135],[2004.91,147],[2004.92,140],[2004.93,132],[2004.94,125],[2004.99,138],[2005.0,132],[2005.01,128],[2005.02,124],[2005.04,142],[2005.05,130],[2005.06,122],[2005.1,150],[2005.11,143],[2005.12,135],[2005.18,175],[2005.19,165],[2005.2,158],[2005.21,150],[2005.22,142],[2005.24,176],[2005.25,170],[2005.26,160],[2005.27,152],[2005.3,195],[2005.305,192],[2005.31,186],[2005.32,180],[2005.33,174],[2005.36,160],[2005.37,155],[2005.38,148],[2005.39,142],[2005.43,140],[2005.44,135],[2005.45,130],[2005.51,138],[2005.52,130],[2005.53,125],[2005.54,122],[2005.59,144],[2005.6,140],[2005.61,135],[2005.62,125],[2005.63,122],[2005.65,120],[2005.66,115],[2005.67,112],[2005.71,125],[2005.72,118],[2005.73,112],[2005.74,108],[2005.79,130],[2005.8,118],[2005.81,112],[2005.82,108],[2005.87,105],[2005.88,100],[2005.89,96],[2005.94,125],[2005.95,118],[2005.96,112],[2005.97,106],[2006.0,135],[2006.01,128],[2006.02,120],[2006.03,115],[2006.06,112],[2006.07,118],[2006.08,124],[2006.11,125],[2006.12,120],[2006.13,115],[2006.17,148],[2006.18,142],[2006.19,136],[2006.2,128],[2006.26,155],[2006.27,150],[2006.28,142],[2006.35,158],[2006.36,150],[2006.37,144],[2006.43,162],[2006.44,155],[2006.45,148],[2006.52,170],[2006.53,164],[2006.54,155],[2006.55,148],[2006.61,175],[2006.62,168],[2006.63,160],[2006.64,152],[2006.67,170],[2006.68,160],[2006.69,155],[2006.7,148],[2006.74,150],[2006.75,145],[2006.76,140],[2006.77,135],[2006.8,155],[2006.81,148],[2006.82,140],[2006.83,163],[2006.87,172],[2006.88,178],[2006.89,186],[2006.9,192],[2006.93,200],[2006.94,196],[2006.95,204],[2006.96,210],[2007.01,208],[2007.02,202],[2007.03,198],[2007.04,212],[2007.1,228],[2007.11,222],[2007.12,218],[2007.19,240],[2007.2,232],[2007.21,226],[2007.25,244],[2007.26,238],[2007.27,232],[2007.33,230],[2007.34,226],[2007.35,215],[2007.38,225],[2007.39,215],[2007.4,208],[2007.41,200],[2007.42,198],[2007.48,220],[2007.49,212],[2007.5,206],[2007.54,215],[2007.55,208],[2007.56,205],[2007.59,256],[2007.6,250],[2007.61,240],[2007.62,232],[2007.63,225],[2007.65,215],[2007.66,203],[2007.69,196],[2007.7,190],[2007.71,188],[2007.72,180],[2007.73,175],[2007.75,183],[2007.76,178],[2007.77,176],[2007.8,190],[2007.81,182],[2007.82,178],[2007.83,196],[2007.87,228],[2007.88,220],[2007.89,205],[2007.9,196],[2007.93,198],[2007.94,192],[2007.95,185],[2007.96,178],[2008.0,205],[2008.01,198],[2008.02,210],[2008.03,218],[2008.06,230],[2008.07,222],[2008.08,212],[2008.09,205],[2008.1,196],[2008.12,245],[2008.13,235],[2008.14,228],[2008.15,218],[2008.16,208],[2008.19,324],[2008.2,316],[2008.21,305],[2008.22,298],[2008.23,290],[2008.24,280],[2008.33,278],[2008.34,268],[2008.35,262],[2008.36,254],[2008.39,295],[2008.4,290],[2008.41,285],[2008.46,312],[2008.47,305],[2008.53,369],[2008.535,358],[2008.54,346],[2008.545,335],[2008.55,325],[2008.59,302],[2008.6,295],[2008.61,285],[2008.62,278],[2008.63,270],[2008.66,290],[2008.67,280],[2008.68,272],[2008.69,268],[2008.76,370],[2008.77,352],[2008.78,345],[2008.79,335],[2008.8,322],[2008.82,338],[2008.825,325],[2008.83,315],[2008.835,305],[2008.84,298],[2008.845,288],[2008.85,278],[2008.855,270],[2008.86,262],[2008.89,310],[2008.9,302],[2008.91,296],[2008.92,285],[2008.93,270],[2008.94,258],[2008.98,300],[2008.99,292],[2009.0,282],[2009.01,272],[2009.06,345],[2009.07,336],[2009.08,325],[2009.09,315],[2009.1,305],[2009.12,330],[2009.13,322],[2009.14,312],[2009.15,302],[2009.19,386],[2009.2,362],[2009.21,350],[2009.22,344],[2009.23,332],[2009.26,325],[2009.27,318],[2009.28,312],[2009.29,302],[2009.3,296],[2009.35,405],[2009.36,390],[2009.37,385],[2009.38,375],[2009.39,365],[2009.42,425],[2009.43,410],[2009.44,395],[2009.45,385],[2009.46,375],[2009.47,362],[2009.49,410],[2009.5,400],[2009.51,392],[2009.52,382],[2009.53,370],[2009.54,360],[2009.56,375],[2009.57,365],[2009.58,355],[2009.59,345],[2009.62,345],[2009.63,335],[2009.64,328],[2009.65,315],[2009.66,306],[2009.72,365],[2009.73,355],[2009.74,342],[2009.79,350],[2009.8,335],[2009.81,325],[2009.82,318],[2009.83,310],[2009.89,395],[2009.9,385],[2009.91,372],[2009.92,360],[2009.93,355],[2009.95,385],[2009.96,378],[2009.97,368],[2009.98,362],[2010.05,368],[2010.06,360],[2010.07,352],[2010.14,392],[2010.15,380],[2010.16,370],[2010.17,360],[2010.18,350],[2010.19,350],[2010.2,340],[2010.21,332],[2010.22,300],[2010.23,290],[2010.24,280],[2010.25,274],[2010.26,255],[2010.27,245],[2010.28,262],[2010.29,235],[2010.3,225],[2010.32,245],[2010.33,235],[2010.34,225],[2010.35,217],[2010.39,200],[2010.45,305],[2010.46,285],[2010.47,270],[2010.48,260],[2010.52,300],[2010.53,288],[2010.54,275],[2010.55,262],[2010.56,245],[2010.58,315],[2010.59,290],[2010.6,270],[2010.61,255],[2010.62,240],[2010.65,260],[2010.66,245],[2010.67,230],[2010.68,240],[2010.69,225],[2010.7,215],[2010.71,205],[2010.75,250],[2010.76,240],[2010.77,225],[2010.78,215],[2010.81,240],[2010.82,230],[2010.83,220],[2010.91,275],[2010.92,265],[2010.93,250],[2010.94,245],[2011.01,255],[2011.02,245],[2011.03,235],[2011.11,270],[2011.12,255],[2011.13,245],[2011.18,320],[2011.19,310],[2011.2,300],[2011.25,330],[2011.26,320],[2011.27,310],[2011.28,298],[2011.29,285],[2011.3,270],[2011.31,330],[2011.32,320],[2011.33,310],[2011.34,300],[2011.41,312],[2011.42,305],[2011.48,335],[2011.49,325],[2011.5,310],[2011.54,335],[2011.55,320],[2011.56,310],[2011.6,398],[2011.605,390],[2011.61,380],[2011.615,365],[2011.62,350],[2011.64,413],[2011.645,405],[2011.65,385],[2011.655,370],[2011.66,360],[2011.665,350],[2011.67,340],[2011.675,330],[2011.71,360],[2011.72,352],[2011.73,345],[2011.74,338],[2011.78,377],[2011.79,355],[2011.84,320],[2011.85,310],[2011.86,305],[2011.91,345],[2011.92,335],[2011.93,325],[2012.01,350],[2012.02,340],[2012.03,325],[2012.04,315],[2012.11,365],[2012.12,355],[2012.13,345],[2012.14,335],[2012.15,325],[2012.18,352],[2012.19,340],[2012.24,350],[2012.25,340],[2012.26,330],[2012.31,320],[2012.32,330],[2012.34,300],[2012.36,290],[2012.37,280],[2012.41,275],[2012.42,265],[2012.43,255],[2012.47,272],[2012.48,262],[2012.49,252],[2012.54,265],[2012.55,250],[2012.56,240],[2012.57,232],[2012.58,235],[2012.59,225],[2012.67,292],[2012.68,278],[2012.69,270],[2012.74,265],[2012.75,255],[2012.81,292],[2012.82,278],[2012.83,268],[2012.84,355],[2012.85,345],[2012.86,332],[2012.9,350],[2012.91,340],[2012.92,328],[2012.93,320],[2012.94,310],[2012.97,345],[2012.98,330],[2012.99,320],[2013.0,310],[2013.04,340],[2013.05,325],[2013.06,315],[2013.12,350],[2013.13,340],[2013.14,330],[2013.15,318],[2013.18,320],
[2013.2,285],[2013.21,278],[2013.22,270],[2013.23,262],[2013.28,298],[2013.29,285],[2013.3,275],[2013.31,265],[2013.37,288],[2013.38,280],[2013.39,270],[2013.4,258],[2013.44,283],[2013.45,272],[2013.46,262],[2013.5,275],[2013.51,265],[2013.52,255],[2013.57,258],[2013.58,250],[2013.59,240],[2013.63,262],[2013.64,250],[2013.65,240],[2013.66,230],[2013.7,280],[2013.71,265],[2013.72,255],[2013.77,293],[2013.78,280],[2013.79,268],[2013.8,258],[2013.83,290],[2013.84,275],[2013.9,265],[2013.91,250],[2013.92,240],[2013.97,240],[2013.98,230],[2014.07,297],[2014.08,285],[2014.09,270],[2014.1,255],[2014.11,245],[2014.16,255],[2014.17,245],[2014.18,240],[2014.23,285],[2014.24,270],[2014.25,260],[2014.26,250],[2014.3,250],[2014.31,240],[2014.32,232],[2014.36,252],[2014.37,242],[2014.38,235],[2014.43,245],[2014.44,238],[2014.45,230],[2014.5,240],[2014.51,232],[2014.52,225],[2014.56,238],[2014.57,230],[2014.63,226],[2014.64,218],[2014.65,212],[2014.7,222],[2014.71,212],[2014.72,200],[2014.79,239],[2014.8,205],[2014.82,198],[2014.85,200],[2014.87,195],[2014.88,188],[2014.9,172],[2014.93,190],[2014.94,183],[2014.95,175],[2015.0,178],[2015.01,172],[2015.02,168],[2015.07,165],[2015.08,160],[2015.09,155],[2015.13,146],[2015.14,140],[2015.15,132],[2015.16,125],[2015.19,145],[2015.2,135],[2015.21,128],[2015.22,122],[2015.26,122],[2015.27,118],[2015.28,112],[2015.36,127],[2015.37,120],[2015.38,115],[2015.39,108],[2015.43,118],[2015.44,110],[2015.45,105],[2015.49,105],[2015.5,100],[2015.51,96],[2015.59,100],[2015.6,97],[2015.61,90],[2015.66,127],[2015.67,122],[2015.68,115],[2015.72,128],[2015.73,122],[2015.74,112],
[2003.45,58],[2003.46,62],[2003.53,60],[2003.59,68],[2003.6,62],[2003.66,72],[2003.68,78],[2003.74,78],[2003.8,78],[2003.82,84],[2003.88,80],[2003.94,78],[2003.96,72],[2004.05,70],[2004.1,66],[2004.16,68],[2004.22,72],[2004.27,86],[2004.28,80],[2004.35,94],[2004.36,98],[2004.44,102],[2004.5,115],[2004.56,122],[2004.62,126],[2004.69,124],[2004.76,120],[2004.78,128],[2004.83,132],[2004.88,134],[2004.96,130],[2005.08,134],[2005.14,148],[2005.16,160],[2005.28,168],[2005.34,172],[2005.41,146],[2005.47,134],[2005.49,128],[2005.56,132],[2005.58,128],[2005.69,118],[2005.77,115],[2005.85,108],[2005.91,115],[2005.92,106],[2005.99,122],[2006.04,122],[2006.09,118],[2006.14,122],[2006.16,132],[2006.22,140],[2006.24,148],[2006.31,150],[2006.33,146],[2006.39,154],[2006.41,150],[2006.48,158],[2006.5,152],[2006.58,165],[2006.59,158],[2006.65,165],[2006.72,150],[2006.85,155],[2006.92,190],[2006.98,205],[2007.06,220],[2007.08,214],[2007.15,235],[2007.17,230],[2007.23,236],[2007.3,222],[2007.37,215],[2007.45,212],[2007.52,210]
];

// A10 : 0 % a partir de fin 2015, plus de donnees a 10 ans
const anneesA10Zero = [2015.75,2015.8,2015.83,2015.9,2015.94,2016.0,2016.04,2016.1,2016.13,2016.16,2016.18,2016.2,2016.22,2016.24,2016.26,2016.28,2016.3,2016.32,2016.34,2016.36,2016.38,2016.4,2016.42,2016.44,2016.46,2016.48,2016.5,2016.52,2016.54,2016.56,2016.58,2016.6,2016.62,2016.64,2016.66,2016.68,2016.7,2016.72,2016.74,2016.76,2016.78,2016.8,2016.82,2016.84,2016.86,2016.88,2016.9,2016.92,2016.94,2016.96,2016.98,2017.0,2017.02,2017.04,2017.06,2017.08,2017.1,2017.12,2017.14,2017.16,2017.18,2017.2,2017.22,2017.24,2017.26,2017.28,2017.3,2017.32,2017.34,2017.36,2017.38,2017.4,2017.42,2017.44,2017.46,2017.48,2017.5,2017.52,2017.54,2017.56,2017.58,2017.6,2017.62,2017.64,2017.66,2017.68,2017.7,2017.72,2017.74,2017.76,2017.78,2017.8,2017.82,2017.84,2017.86,2017.88,2017.9,2017.92,2017.94,2017.96,2017.98,2018.0,2018.02,2018.04,2018.06,2018.08,2018.1,2018.12,2018.14,2018.16,2018.18,2018.2,2018.22,2018.24,2018.26,2018.28,2018.3,2018.32,2018.34,2018.36,2018.38,2018.4,2018.42,2018.44,2018.46,2018.48,2018.5,2018.52,2018.54,2018.56,2018.58,2018.6,2018.62,2018.64,2018.66,2018.68,2018.7,2018.72,2018.74,2018.76,2018.78,2018.8,2018.82,2018.84,2018.86,2018.88,2018.9,2018.92,2018.94,2018.96,2018.98,2019.0,2019.02,2019.04,2019.06,2019.08,2019.1,2019.12,2019.14,2019.16,2019.18,2019.2,2019.22,2019.24,2019.26,2019.28,2019.3,2019.32,2019.34,2019.36,2019.38,2019.4,2019.42,2019.44,2019.46,2019.48,2019.5,2019.52,2019.54,2019.56,2019.58,2019.6,2019.62,2019.66,2019.68,2019.7,2019.72,2019.74,2019.76,2019.78,2019.8,2019.82,2019.84,2019.86,2019.88,2019.9,2019.92,2019.94,2019.96,2019.98,2020.0,2020.02,2020.04,2020.06,2020.08,2020.1,2020.12,2020.14,2020.16,2020.18,2020.2,2020.22,2020.24,2020.26,2020.28,2020.3,2020.32,2020.34,2020.36,2020.38,2020.4,2020.42,2020.44,2020.46,2020.48,2020.5,2020.52,2020.54,2020.56,2020.58,2020.6,2020.62,2020.64,2020.66,2020.68,2020.7,2020.72,2020.74,2020.76,2020.78,2020.8,2020.82,2020.84,2020.86,2020.88,2020.9,2020.92,2020.94,2020.96,2020.98,2021.0,2021.02,2021.04,2021.06,2021.08,2021.1,2021.12,2021.14,2021.16,2021.18,2021.2,2021.22,2021.24,2021.26,2021.28,2021.3,2021.32,2021.34,2021.36,2021.38,2021.4,2021.42,2021.44,2021.46,2021.48,2021.5,2021.52,2021.54,2021.56,2021.58,2021.6,2021.62,2021.64,2021.66,2021.68,2021.7,2021.72,2021.74,2021.76,2021.78,2021.8,2021.82,2021.84,2021.86,2021.88,2021.9,2021.92,2021.94,2021.97];

const width = 2086, height = 1032;
const plot = { left: 92, right: 2015, top: 97, bottom: 970.6 };

let svg = d3.select("#graph").append("svg")
    .attr("width", width)
    .attr("height", height)
    .style("display", "block");

let x = d3.scaleLinear().domain([1997, 2022]).range([plot.left, plot.right]);
let y = d3.scaleLinear().domain([-100, 500]).range([plot.bottom, plot.top]);

// cadre
svg.append("rect").attr("width", width).attr("height", height).attr("fill", "#fff");
svg.append("rect").attr("x", 0).attr("y", 0).attr("width", width).attr("height", 52).attr("fill", "#7ec97e");
svg.append("line").attr("x1", 0).attr("x2", width).attr("y1", 0.5).attr("y2", 0.5).attr("stroke", "#7f8f7f");
svg.append("line").attr("x1", 0).attr("x2", 2080).attr("y1", 56).attr("y2", 56).attr("stroke", "#dcdcdc").attr("stroke-width", 2);
svg.append("line").attr("x1", 0).attr("x2", 2080).attr("y1", 1022).attr("y2", 1022).attr("stroke", "#dcdcdc").attr("stroke-width", 2);
svg.append("line").attr("x1", 0.5).attr("x2", 0.5).attr("y1", 56).attr("y2", 1031).attr("stroke", "#e3e3e3");
svg.append("line").attr("x1", 2080).attr("x2", 2080).attr("y1", 56).attr("y2", 1022).attr("stroke", "#e3e3e3").attr("stroke-width", 2);
svg.append("line").attr("x1", 2085.5).attr("x2", 2085.5).attr("y1", 0).attr("y2", height).attr("stroke", "#808080");
svg.append("line").attr("x1", 0).attr("x2", width).attr("y1", 1031.5).attr("y2", 1031.5).attr("stroke", "#808080");

// coins jaunes
const jaune = "#ffc000";
svg.append("rect").attr("x", 0).attr("y", 51).attr("width", 22).attr("height", 3.5).attr("fill", jaune);
svg.append("rect").attr("x", 0).attr("y", 1023).attr("width", 22).attr("height", 7).attr("fill", jaune);
svg.append("rect").attr("x", 2063).attr("y", 51).attr("width", 22).attr("height", 3.5).attr("fill", jaune);
svg.append("rect").attr("x", 2081).attr("y", 51).attr("width", 4).attr("height", 18).attr("fill", jaune);
svg.append("rect").attr("x", 2063).attr("y", 1024).attr("width", 22).attr("height", 6).attr("fill", jaune);
svg.append("rect").attr("x", 2081).attr("y", 967).attr("width", 4).attr("height", 63).attr("fill", jaune);

// titre : Liberation Sans resserree par une echelle horizontale
let titleText = svg.append("text")
    .attr("transform", "translate(33, 39.5)")
    .style("font-size", "32px")
    .style("font-weight", 700)
    .style("fill", "#000")
    .text(titre);
titleText.attr("transform", `translate(33, 39.5) scale(${1947 / titleText.node().getComputedTextLength()}, 1)`);

// axes et grille
let xAxis = svg.append("g")
    .attr("transform", `translate(0, ${plot.bottom})`)
    .call(d3.axisBottom(x)
        .tickValues(xTickYears)
        .tickFormat(d => `01/01/${d}`)
        .tickSizeInner(-(plot.bottom - plot.top))
        .tickSizeOuter(0)
        .tickPadding(23));
xAxis.select(".domain").remove();
xAxis.selectAll("line").attr("stroke", "#d9d9d9").attr("stroke-width", 2);
xAxis.selectAll("text")
    .attr("textLength", 97)
    .attr("lengthAdjust", "spacingAndGlyphs")
    .style("font-size", "25px")
    .style("fill", "#595959");

let yAxis = svg.append("g")
    .attr("transform", `translate(${plot.left}, 0)`)
    .call(d3.axisLeft(y)
        .tickValues(yTicks)
        .tickFormat(d => d < 0 ? `- ${-d}%` : `${d}%`)
        .tickSizeInner(-(plot.right - plot.left))
        .tickSizeOuter(0)
        .tickPadding(19));
yAxis.select(".domain").remove();
yAxis.selectAll("line").attr("stroke", "#d9d9d9").attr("stroke-width", 2);
yAxis.selectAll("text")
    .attr("textLength", d => d < 0 ? 55 : d == 0 ? 25 : 45)
    .attr("lengthAdjust", "spacingAndGlyphs")
    .style("font-size", "23px")
    .style("fill", "#595959");

svg.append("line")
    .attr("x1", plot.left).attr("x2", plot.left)
    .attr("y1", plot.top).attr("y2", plot.bottom)
    .attr("stroke", "#bfbfbf").attr("stroke-width", 2);

// l'axe horizontal croise a -45 %
svg.append("line")
    .attr("x1", plot.left).attr("x2", plot.right)
    .attr("y1", y(-45)).attr("y2", y(-45))
    .attr("stroke", "#bfbfbf").attr("stroke-width", 2);

// fonds blancs du sous-titre et de la legende
svg.append("rect").attr("x", 420).attr("y", 80).attr("width", 1239).attr("height", 83).attr("fill", "#fff");
svg.append("rect").attr("x", 1702).attr("y", 182).attr("width", 312).attr("height", 238).attr("fill", "#fff");

const sousTitres = [
    { t: sousTitre1, x: 512, y: 110, w: 1055 },
    { t: sousTitre2, x: 428, y: 152, w: 1224 }
];
svg.selectAll(".sous-titre").data(sousTitres).join("text")
    .attr("class", "sous-titre")
    .attr("x", d => d.x)
    .attr("y", d => d.y)
    .attr("textLength", d => d.w)
    .attr("lengthAdjust", "spacingAndGlyphs")
    .style("font-size", "29px")
    .style("fill", "#595959")
    .style("stroke", "#595959")
    .style("stroke-width", 0.4)
    .text(d => d.t);

function drawSeries(data, color, strokeWidth, size) {
    svg.append("g").selectAll("path").data(data).join("path")
        .attr("transform", d => `translate(${x(d[0])}, ${y(d[1])})`)
        .attr("d", d3.symbol(d3.symbolPlus, size)())
        .attr("fill", "none")
        .attr("stroke", color)
        .attr("stroke-width", strokeWidth);
}

const couleurs = ["#ffc000", "#0070c0", "#ff0000"];
drawSeries(rendementA04, couleurs[0], 1.2, 70);
drawSeries(rendementA07, couleurs[1], 2.3, 49);
drawSeries(rendementA10.concat(anneesA10Zero.map(d => [d, 0])), couleurs[2], 2.4, 49);

// legende
let legend = svg.append("g").selectAll("g").data(seriesNames).join("g")
    .attr("transform", (d, i) => `translate(1762, ${222 + i * 79.5})`);
legend.append("path")
    .attr("d", d3.symbol(d3.symbolPlus, 30)())
    .attr("fill", "none")
    .attr("stroke", (d, i) => couleurs[i])
    .attr("stroke-width", (d, i) => i == 0 ? 1 : 2);
legend.append("text")
    .attr("x", 15)
    .attr("y", 10)
    .attr("textLength", 188)
    .attr("lengthAdjust", "spacingAndGlyphs")
    .style("font-size", "29px")
    .style("fill", "#595959")
    .style("stroke", "#595959")
    .style("stroke-width", 0.4)
    .text(d => d);
</script>
</body>
</html>
